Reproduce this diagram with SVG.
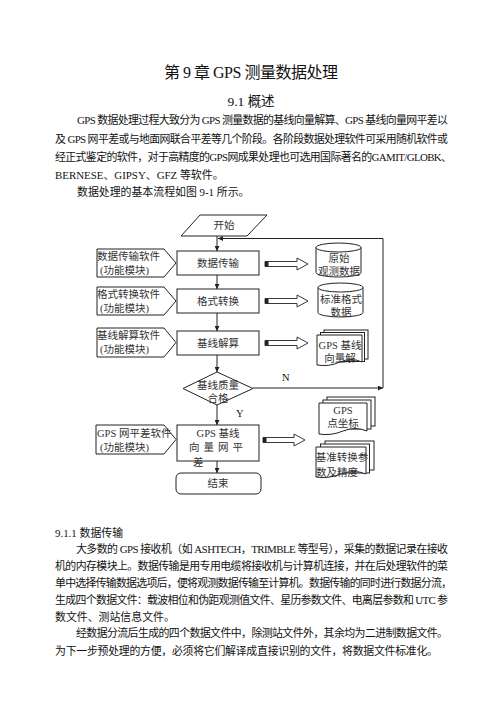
<svg xmlns="http://www.w3.org/2000/svg" width="502" height="708" viewBox="0 0 502 708">
<style>
text{font-family:'Liberation Serif','Noto Sans CJK SC',serif;fill:#111}
.p{font-size:10.9px}
.f{font-size:10.5px;fill:#333}
.c{text-anchor:middle}
.s{fill:#fff;stroke:#222;stroke-width:1}
.ln{fill:none;stroke:#222;stroke-width:1}
.ba{fill:#fff;stroke:#222;stroke-width:0.9}
</style>
<defs>
<marker id="ah" viewBox="0 0 8 8" refX="8" refY="4" markerWidth="5" markerHeight="5" orient="auto"><path d="M0,0 L8,4 L0,8 Z" fill="#222"/></marker>
</defs>
<rect width="502" height="708" fill="#fff"/>
<text x="251" y="78" class="c" style="font-size:16px" textLength="174" lengthAdjust="spacing">第 9 章 GPS 测量数据处理</text>
<text x="251" y="106" class="c" style="font-size:13.5px">9.1 概述</text>
<text class="p" x="77" y="124" textLength="371" lengthAdjust="spacing">GPS 数据处理过程大致分为 GPS 测量数据的基线向量解算、GPS 基线向量网平差以</text>
<text class="p" x="55" y="143" textLength="393" lengthAdjust="spacing">及 GPS 网平差或与地面网联合平差等几个阶段。各阶段数据处理软件可采用随机软件或</text>
<text class="p" x="55" y="161" textLength="397" lengthAdjust="spacing">经正式鉴定的软件，对于高精度的GPS网成果处理也可选用国际著名的GAMIT/GLOBK、</text>
<text class="p" x="55" y="179">BERNESE、GIPSY、GFZ 等软件。</text>
<text class="p" x="77" y="196">数据处理的基本流程如图 9-1 所示。</text>

<g id="connectors">
<line class="ln" x1="217" y1="236" x2="217" y2="251" marker-end="url(#ah)"/>
<line class="ln" x1="217" y1="275" x2="217" y2="289" marker-end="url(#ah)"/>
<line class="ln" x1="217" y1="313" x2="217" y2="331" marker-end="url(#ah)"/>
<line class="ln" x1="217" y1="355" x2="217" y2="372" marker-end="url(#ah)"/>
<line class="ln" x1="217" y1="405" x2="217" y2="425" marker-end="url(#ah)"/>
<line class="ln" x1="217" y1="461" x2="217" y2="473" marker-end="url(#ah)"/>
<path class="ln" d="M253,388 H383" marker-end="url(#ah)"/>
<path class="ln" d="M383,388 V238.5 H218" marker-end="url(#ah)"/>
<g id="blockarrows">
<path class="ba" d="M265,261.5 H297 V258 L308,264 L297,270 V266.5 H265 Z"/><rect x="265" y="261.5" width="3.5" height="5" fill="#222"/>
<path class="ba" d="M265,298.5 H297 V295 L308,301 L297,307 V303.5 H265 Z"/><rect x="265" y="298.5" width="3.5" height="5" fill="#222"/>
<path class="ba" d="M265,340.5 H297 V337 L308,343 L297,349 V345.5 H265 Z"/><rect x="265" y="340.5" width="3.5" height="5" fill="#222"/>
<path class="ba" d="M263,437.5 H294 V434 L305,440 L294,446 V442.5 H263 Z"/><rect x="263" y="437.5" width="3.5" height="5" fill="#222"/>
</g>
<text x="282" y="381" class="f" style="fill:#111">N</text>
<text x="236" y="417" class="f" style="fill:#111">Y</text>
</g>

<g id="start"><path class="s" d="M200,215 H267 L247,236 H181 Z"/><text class="f c" x="224" y="229">开始</text></g>
<g id="transfer"><rect class="s" x="177" y="251" width="82" height="24"/><text class="f c" x="218" y="267">数据传输</text></g>
<g id="format"><rect class="s" x="177" y="289" width="82" height="24"/><text class="f c" x="218" y="305">格式转换</text></g>
<g id="solve"><rect class="s" x="177" y="331" width="82" height="24"/><text class="f c" x="218" y="347">基线解算</text></g>
<g id="check"><path class="s" d="M217,372 L253,388.5 L217,405 L183,388.5 Z"/><text class="f c" x="218" y="389">基线质量</text><text class="f c" x="218" y="402">合格</text></g>
<g id="adjust"><rect class="s" x="177" y="425" width="82" height="36"/><text class="f c" x="218" y="437">GPS 基线</text><text class="f c" x="218" y="451" letter-spacing="4">向量网平</text><text class="f" x="193" y="466">差</text></g>
<g id="end"><rect class="s" x="176" y="473" width="85" height="21" rx="5"/><text class="f c" x="218" y="487">结束</text></g>

<g id="sw1"><path class="s" d="M97,249 H164 L176,263 L164,277 H97 Z"/><text class="f" x="97" y="260">数据传输软件</text><text class="f" x="100" y="274">(功能模块)</text></g>
<g id="sw2"><path class="s" d="M97,287 H164 L176,301 L164,315 H97 Z"/><text class="f" x="97" y="298">格式转换软件</text><text class="f" x="100" y="312">(功能模块)</text></g>
<g id="sw3"><path class="s" d="M97,328 H164 L176,342.5 L164,357 H97 Z"/><text class="f" x="97" y="339">基线解算软件</text><text class="f" x="100" y="353">(功能模块)</text></g>
<g id="sw4"><path class="s" d="M96,425 H164 L176,439.5 L164,454 H96 Z"/><text class="f" x="97" y="437">GPS 网平差软件</text><text class="f" x="100" y="451">(功能模块)</text></g>

<g id="rawdata"><path class="s" d="M316,247.5 A22.5,4.5 0 0 1 361,247.5 V272.5 A22.5,4.5 0 0 1 316,272.5 Z"/><path class="ln" d="M316,247.5 A22.5,4.5 0 0 0 361,247.5"/><text class="f c" x="339" y="262">原始</text><text class="f c" x="339" y="275">观测数据</text></g>
<g id="stddata"><path class="s" d="M318,287.5 A22.5,4.5 0 0 1 363,287.5 V312.5 A22.5,4.5 0 0 1 318,312.5 Z"/><path class="ln" d="M318,287.5 A22.5,4.5 0 0 0 363,287.5"/><text class="f c" x="341" y="303">标准格式</text><text class="f c" x="341" y="316">数据</text></g>
<g id="vecsol"><rect class="s" x="324" y="330" width="44" height="29"/><rect class="s" x="320.5" y="332.5" width="44" height="29"/><path class="s" d="M317,335 H362 V362 Q351,357 340,362 T317,365 Z"/><text class="f c" x="340" y="349">GPS 基线</text><text class="f c" x="340" y="362">向量解</text></g>
<g id="coords"><rect class="s" x="327" y="397" width="48" height="29"/><rect class="s" x="323" y="400" width="48" height="29"/><path class="s" d="M319,403 H367 V431 Q355,426 343,431 T319,434 Z"/><text class="f c" x="343" y="414">GPS</text><text class="f c" x="343" y="427">点坐标</text></g>
<g id="params"><rect class="s" x="325" y="441" width="49" height="29"/><rect class="s" x="320.5" y="444" width="49" height="29"/><path class="s" d="M316,447 H366 V474 Q354,469 341,474 T316,477 Z"/><text class="f c" x="342" y="461">基准转换参</text><text class="f" x="316" y="476">数及精度</text></g>

<text class="p" x="55" y="537">9.1.1 数据传输</text>
<text class="p" x="76" y="553" textLength="372" lengthAdjust="spacing">大多数的 GPS 接收机（如 ASHTECH，TRIMBLE 等型号），采集的数据记录在接收</text>
<text class="p" x="55" y="570" textLength="393" lengthAdjust="spacing">机的内存模块上。数据传输是用专用电缆将接收机与计算机连接，并在后处理软件的菜</text>
<text class="p" x="55" y="587" textLength="397" lengthAdjust="spacing">单中选择传输数据选项后，便将观测数据传输至计算机。数据传输的同时进行数据分流，</text>
<text class="p" x="55" y="604" textLength="393" lengthAdjust="spacing">生成四个数据文件：载波相位和伪距观测值文件、星历参数文件、电离层参数和 UTC 参</text>
<text class="p" x="55" y="621">数文件、测站信息文件。</text>
<text class="p" x="76" y="637" textLength="372" lengthAdjust="spacing">经数据分流后生成的四个数据文件中，除测站文件外，其余均为二进制数据文件。</text>
<text class="p" x="55" y="655" textLength="383" lengthAdjust="spacing">为下一步预处理的方便，必须将它们解译成直接识别的文件，将数据文件标准化。</text>
</svg>
